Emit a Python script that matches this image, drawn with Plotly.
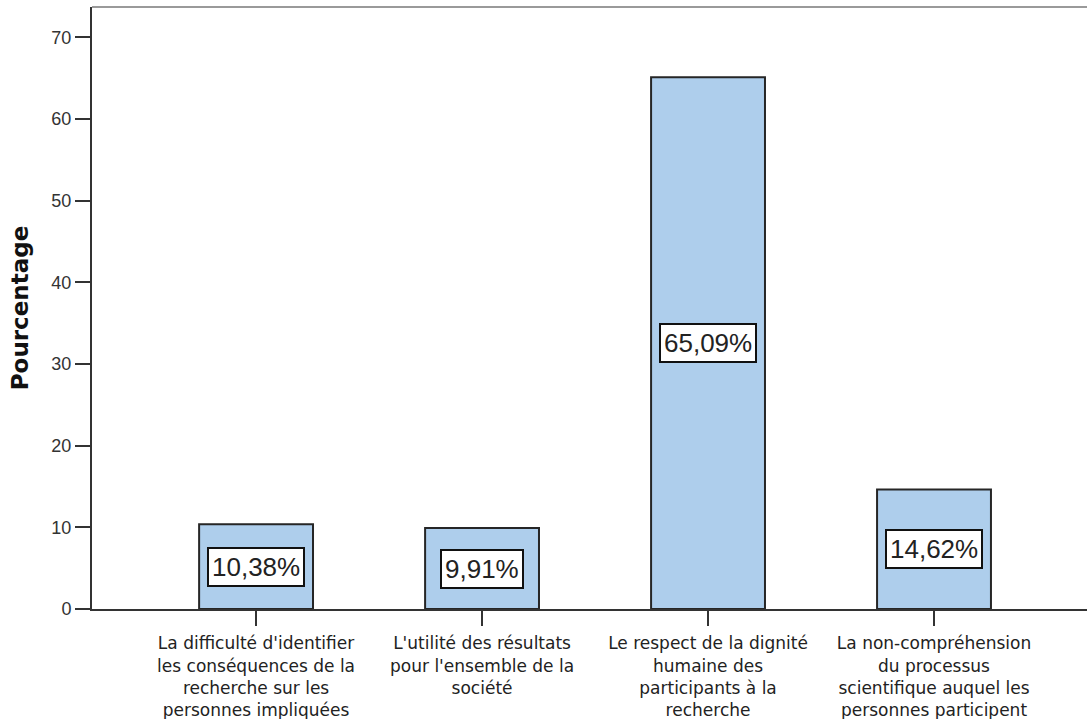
import plotly.graph_objects as go

categories = [
    "La difficulté d'identifier<br>les conséquences de la<br>recherche sur les<br>personnes impliquées",
    "L'utilité des résultats<br>pour l'ensemble de la<br>société",
    "Le respect de la dignité<br>humaine des<br>participants à la<br>recherche",
    "La non-compréhension<br>du processus<br>scientifique auquel les<br>personnes participent",
]
values = [10.38, 9.91, 65.09, 14.62]
labels = ["10,38%", "9,91%", "65,09%", "14,62%"]
y_ticks = [0, 10, 20, 30, 40, 50, 60, 70]

positions = list(range(len(categories)))

fig = go.Figure()
fig.add_trace(go.Bar(
    x=positions, y=values, width=0.504,
    marker=dict(color="#AECEEC", line=dict(color="#262626", width=2)),
    hoverinfo="skip", showlegend=False,
))

for p, v, t in zip(positions, values, labels):
    fig.add_annotation(
        x=p, y=v / 2, xref="x", yref="y", text=t, showarrow=False,
        font=dict(family="Liberation Sans, Arial", size=26, color="#222"),
        bgcolor="white", bordercolor="#111", borderwidth=2, borderpad=3,
    )

fig.add_shape(type="line", xref="paper", yref="paper", x0=0, x1=1, y0=1, y1=1,
              line=dict(color="#9a9a9a", width=2))

fig.update_layout(
    width=1087, height=719,
    margin=dict(l=92, r=0, t=7, b=110, autoexpand=False),
    plot_bgcolor="white", paper_bgcolor="white",
    font=dict(family="Liberation Sans, Arial", color="#222"),
    xaxis=dict(
        range=[-0.726, 3.677], tickmode="array", tickvals=positions, ticktext=categories,
        ticks="outside", ticklen=15, tickwidth=2, tickcolor="#333",
        showline=True, linecolor="#333", linewidth=2, showgrid=False, zeroline=False,
        tickfont=dict(family="DejaVu Sans", size=17, color="#222"), tickangle=0,
        automargin=False, ticklabelstandoff=3,
    ),
    yaxis=dict(
        range=[0, 73.7], tickmode="array", tickvals=y_ticks,
        ticks="outside", ticklen=15, tickwidth=2, tickcolor="#333",
        showline=True, linecolor="#333", linewidth=2, showgrid=False, zeroline=False,
        tickfont=dict(size=18, color="#333"), automargin=False,
        title=dict(text="<b>Pourcentage</b>", font=dict(family="DejaVu Sans", size=23, color="#111"), standoff=16),
    ),
)

fig.write_html(
    "out.html",
    config={"displayModeBar": False},
    post_script="document.body.style.margin='0';document.body.style.overflow='hidden';",
)
